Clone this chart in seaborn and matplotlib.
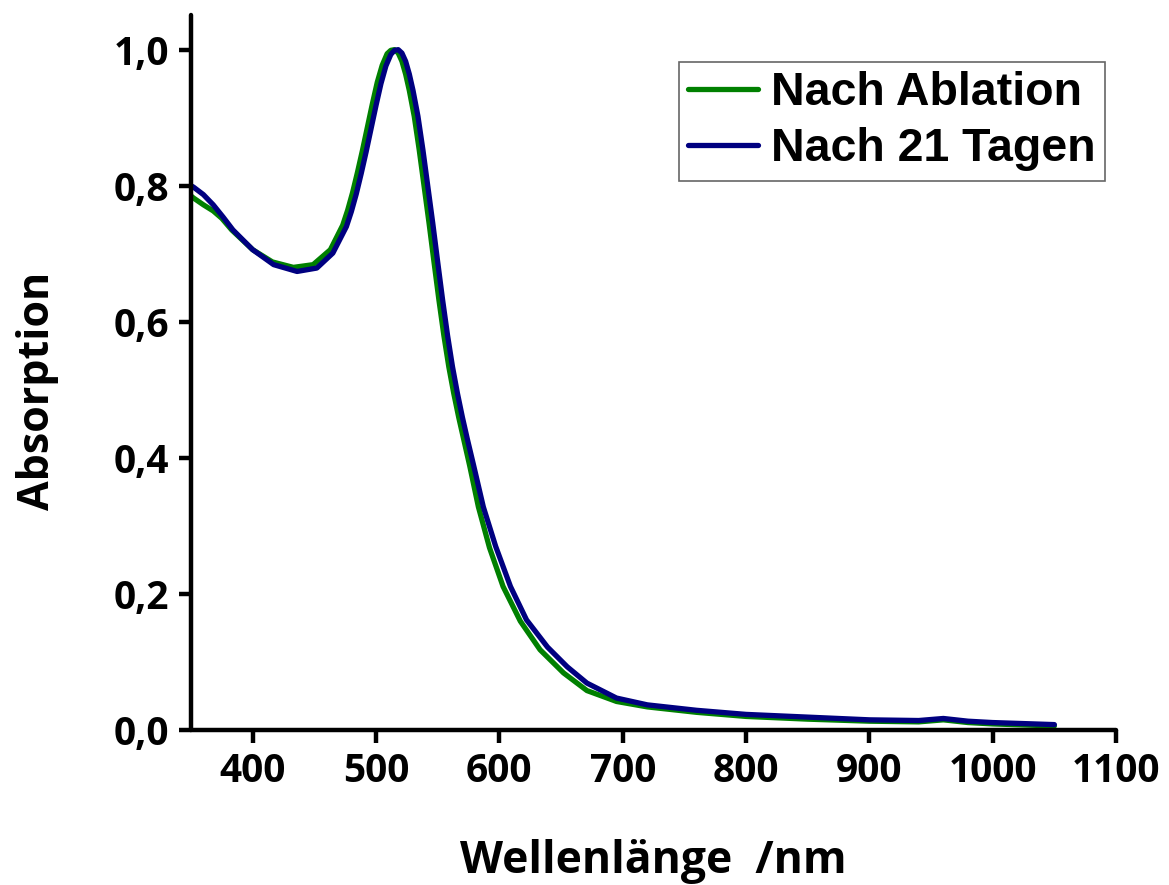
import matplotlib
matplotlib.use("Agg")
import matplotlib.pyplot as plt
import seaborn as sns
import pandas as pd
from matplotlib.ticker import FuncFormatter, FixedLocator

# ---- data ----
wl_ablation = [350, 352, 360, 368, 375, 383, 400, 416, 433, 449, 463, 473, 477, 481,
               485, 489, 493, 497, 501, 505, 509, 512, 515, 518, 521, 524, 527, 531,
               535, 539, 543, 547, 551, 555, 559, 563, 567, 571, 576, 583, 592, 603,
               617, 633, 652, 671, 695, 720, 760, 800, 850, 900, 940, 960, 980, 1000,
               1050]
abs_ablation = [0.785, 0.782, 0.772, 0.763, 0.752, 0.735, 0.706, 0.688, 0.680, 0.684,
                0.706, 0.742, 0.764, 0.790, 0.820, 0.852, 0.886, 0.920, 0.952, 0.977,
                0.994, 0.999, 1.000, 0.995, 0.983, 0.964, 0.940, 0.902, 0.853, 0.799,
                0.745, 0.688, 0.632, 0.580, 0.534, 0.495, 0.460, 0.428, 0.388, 0.328,
                0.268, 0.211, 0.160, 0.118, 0.084, 0.058, 0.042, 0.034, 0.026, 0.020,
                0.016, 0.013, 0.012, 0.015, 0.011, 0.009, 0.006]

wl_21tage = [350, 352, 360, 368, 376, 384, 400, 417, 436, 452, 465, 476, 480, 484, 488,
             492, 496, 500, 504, 508, 512, 515, 518, 521, 524, 527, 530, 534, 538,
             542, 546, 550, 554, 558, 562, 566, 570, 574, 579, 587, 597, 609, 622,
             639, 655, 671, 695, 720, 760, 800, 850, 900, 940, 960, 980, 1000, 1050]
abs_21tage = [0.800, 0.798, 0.787, 0.772, 0.754, 0.735, 0.706, 0.684, 0.674, 0.679,
              0.701, 0.740, 0.762, 0.788, 0.818, 0.850, 0.884, 0.918, 0.950, 0.976,
              0.993, 0.999, 1.000, 0.995, 0.983, 0.964, 0.940, 0.902, 0.853, 0.799,
              0.745, 0.688, 0.632, 0.580, 0.534, 0.495, 0.460, 0.428, 0.390, 0.328,
              0.270, 0.211, 0.162, 0.122, 0.093, 0.069, 0.047, 0.037, 0.029, 0.023,
              0.019, 0.015, 0.014, 0.017, 0.013, 0.011, 0.008]

labels = ["Nach Ablation", "Nach 21 Tagen"]
colors = ["#008000", "#000080"]
x_ticks = [400, 500, 600, 700, 800, 900, 1000, 1100]
y_ticks = [0.0, 0.2, 0.4, 0.6, 0.8, 1.0]

df = pd.concat([
    pd.DataFrame({"wl": wl_ablation, "A": abs_ablation, "Probe": labels[0]}),
    pd.DataFrame({"wl": wl_21tage, "A": abs_21tage, "Probe": labels[1]}),
], ignore_index=True)

sns.set_theme(style="ticks")
plt.rcParams["font.family"] = ["Open Sans", "DejaVu Sans"]

fig = plt.figure(figsize=(11.69, 8.85), dpi=100)
ax = fig.add_axes([0.1634, 0.1751, 0.7913, 0.808])

sns.lineplot(data=df, x="wl", y="A", hue="Probe", palette=dict(zip(labels, colors)),
             hue_order=labels, linewidth=3.8, sort=False, estimator=None, ax=ax)
for ln in ax.get_lines():
    ln.set_solid_joinstyle("round")
    ln.set_solid_capstyle("round")

ax.set_xlim(350, 1100)
ax.set_ylim(0, 1.051)
ax.xaxis.set_major_locator(FixedLocator(x_ticks))
ax.yaxis.set_major_locator(FixedLocator(y_ticks))
ax.yaxis.set_major_formatter(FuncFormatter(lambda v, p: f"{v:.1f}".replace(".", ",")))

for s in ["top", "right"]:
    ax.spines[s].set_visible(False)
for s in ["left", "bottom"]:
    ax.spines[s].set_linewidth(3.2)
    ax.spines[s].set_color("black")
    ax.spines[s].set_capstyle("round")

ax.tick_params(axis="both", direction="out", length=9, width=3.2, color="black",
               labelsize=28, pad=7, labelcolor="black")
for lab in ax.get_xticklabels() + ax.get_yticklabels():
    lab.set_fontweight("bold")

ax.set_xlabel("Wellenlänge  /nm", fontsize=32, fontweight="bold", color="black")
ax.set_ylabel("Absorption", fontsize=31, fontweight="bold", color="black")
ax.xaxis.set_label_coords(0.5, -0.152)
ax.yaxis.set_label_coords(-0.143, 0.474)

leg = ax.legend(loc="upper right", bbox_to_anchor=(1105 / 1169, 1 - 62 / 885),
                bbox_transform=fig.transFigure, borderaxespad=0, frameon=True,
                fancybox=False, edgecolor="#404040", handlelength=1.5,
                handletextpad=0.28, borderpad=0.2, labelspacing=0.26,
                prop={"family": ["Liberation Sans", "DejaVu Sans"], "weight": "bold", "size": 33.5})
leg.get_frame().set_linewidth(1.2)
for t in leg.get_texts():
    t.set_color("black")
for line in leg.get_lines():
    line.set_linewidth(3.8)

fig.savefig("out.png", dpi=100)
